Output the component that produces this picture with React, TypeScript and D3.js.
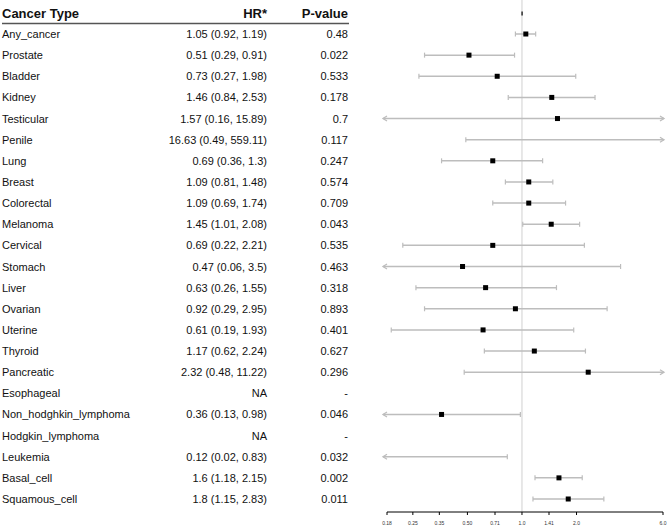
import React from "react";
import * as d3 from "d3";

const cancerTypes = [
  "Any_cancer", "Prostate", "Bladder", "Kidney", "Testicular", "Penile", "Lung", "Breast",
  "Colorectal", "Melanoma", "Cervical", "Stomach", "Liver", "Ovarian", "Uterine", "Thyroid",
  "Pancreatic", "Esophageal", "Non_hodghkin_lymphoma", "Hodgkin_lymphoma", "Leukemia",
  "Basal_cell", "Squamous_cell",
];
const hr: (number | null)[] = [
  1.05, 0.51, 0.73, 1.46, 1.57, 16.63, 0.69, 1.09, 1.09, 1.45, 0.69, 0.47, 0.63, 0.92, 0.61, 1.17,
  2.32, null, 0.36, null, 0.12, 1.6, 1.8,
];
const lower: (number | null)[] = [
  0.92, 0.29, 0.27, 0.84, 0.16, 0.49, 0.36, 0.81, 0.69, 1.01, 0.22, 0.06, 0.26, 0.29, 0.19, 0.62,
  0.48, null, 0.13, null, 0.02, 1.18, 1.15,
];
const upper: (number | null)[] = [
  1.19, 0.91, 1.98, 2.53, 15.89, 559.11, 1.3, 1.48, 1.74, 2.08, 2.21, 3.5, 1.55, 2.95, 1.93, 2.24,
  11.22, null, 0.98, null, 0.83, 2.15, 2.83,
];
const hrLabels = [
  "1.05 (0.92, 1.19)", "0.51 (0.29, 0.91)", "0.73 (0.27, 1.98)", "1.46 (0.84, 2.53)",
  "1.57 (0.16, 15.89)", "16.63 (0.49, 559.11)", "0.69 (0.36, 1.3)", "1.09 (0.81, 1.48)",
  "1.09 (0.69, 1.74)", "1.45 (1.01, 2.08)", "0.69 (0.22, 2.21)", "0.47 (0.06, 3.5)",
  "0.63 (0.26, 1.55)", "0.92 (0.29, 2.95)", "0.61 (0.19, 1.93)", "1.17 (0.62, 2.24)",
  "2.32 (0.48, 11.22)", "NA", "0.36 (0.13, 0.98)", "NA", "0.12 (0.02, 0.83)",
  "1.6 (1.18, 2.15)", "1.8 (1.15, 2.83)",
];
const pValues = [
  "0.48", "0.022", "0.533", "0.178", "0.7", "0.117", "0.247", "0.574", "0.709", "0.043", "0.535",
  "0.463", "0.318", "0.893", "0.401", "0.627", "0.296", "-", "0.046", "-", "0.032", "0.002", "0.011",
];
const tickValues = [0.18, 0.25, 0.35, 0.5, 0.71, 1, 1.41, 2, 6];
const tickLabels = ["0.18", "0.25", "0.35", "0.50", "0.71", "1.0", "1.41", "2.0", "6.0"];
const headers = ["Cancer Type", "HR*", "P-value"];

const W = 669;
const H = 526;
const FONT = "Liberation Sans, Arial, sans-serif";

export default function App() {
  const x = d3.scaleLog().domain([0.18, 6]).range([387, 663]);
  const y = d3.scaleLinear().domain([0, cancerTypes.length - 1]).range([34, 499]);
  const headerY = 13.5;
  const axisY = 512;
  const [xmin, xmax] = x.domain();
  const ciColor = "#bdbdbd";

  return (
    <div style={{ position: "absolute", left: 0, top: 0 }}>
      <svg width={W} height={H} style={{ display: "block", background: "#fff" }}>
        {/* headers */}
        <text x={2} y={headerY} fontFamily={FONT} fontWeight="bold" fontSize={13} dominantBaseline="central" fill="#111">
          {headers[0]}
        </text>
        <text x={267} y={headerY} fontFamily={FONT} fontWeight="bold" fontSize={13} textAnchor="end" dominantBaseline="central" fill="#111">
          {headers[1]}
        </text>
        <text x={348} y={headerY} fontFamily={FONT} fontWeight="bold" fontSize={13} textAnchor="end" dominantBaseline="central" fill="#111">
          {headers[2]}
        </text>
        <line x1={2} x2={349} y1={23.5} y2={23.5} stroke="#555" strokeWidth={1.5} />

        {/* table rows */}
        {cancerTypes.map((c, i) => (
          <g key={c} fontFamily={FONT} fontSize={11} fill="#111">
            <text x={2} y={y(i)} dominantBaseline="central">{c}</text>
            <text x={267} y={y(i)} textAnchor="end" dominantBaseline="central">{hrLabels[i]}</text>
            <text x={348} y={y(i)} textAnchor="end" dominantBaseline="central">{pValues[i]}</text>
          </g>
        ))}

        {/* reference line */}
        <line x1={x(1)} x2={x(1)} y1={0} y2={axisY} stroke="#d0d0d0" strokeWidth={1} />
        {/* header dummy mark */}
        <rect x={x(1) - 0.5} y={headerY - 2} width={1.2} height={4} fill="#000" />

        {/* CIs */}
        {cancerTypes.map((c, i) => {
          const lo = lower[i];
          const hi = upper[i];
          const est = hr[i];
          if (lo == null || hi == null) return null;
          const yy = y(i);
          const loClip = lo < xmin;
          const hiClip = hi > xmax;
          const x1 = loClip ? x(xmin) - 4 : x(lo);
          const x2 = hiClip ? x(xmax) + 1 : x(hi);
          return (
            <g key={c}>
              <line x1={x1} x2={x2} y1={yy} y2={yy} stroke={ciColor} strokeWidth={1.5} />
              {loClip ? (
                <path d={`M${x1 + 4},${yy - 2.5} L${x1},${yy} L${x1 + 4},${yy + 2.5}`} fill="none" stroke={ciColor} strokeWidth={1.3} />
              ) : (
                <line x1={x1} x2={x1} y1={yy - 2.5} y2={yy + 2.5} stroke={ciColor} strokeWidth={1.2} />
              )}
              {hiClip ? (
                <path d={`M${x2 - 4},${yy - 2.5} L${x2},${yy} L${x2 - 4},${yy + 2.5}`} fill="none" stroke={ciColor} strokeWidth={1.3} />
              ) : (
                <line x1={x2} x2={x2} y1={yy - 2.5} y2={yy + 2.5} stroke={ciColor} strokeWidth={1.2} />
              )}
              {est != null && est >= xmin && est <= xmax && (
                <rect x={x(est) - 2.5} y={yy - 2.5} width={5} height={5} fill="#000" />
              )}
            </g>
          );
        })}

        {/* x axis */}
        <line x1={x(xmin)} x2={x(xmax)} y1={axisY} y2={axisY} stroke="#000" strokeWidth={1} />
        {tickValues.map((t, i) => (
          <g key={t}>
            <line x1={x(t)} x2={x(t)} y1={axisY} y2={axisY + 3} stroke="#000" strokeWidth={1} />
            <text x={x(t)} y={axisY + 10.5} fontFamily={FONT} fontSize={5} textAnchor="middle" dominantBaseline="central" fill="#333">
              {tickLabels[i]}
            </text>
          </g>
        ))}
      </svg>
    </div>
  );
}
